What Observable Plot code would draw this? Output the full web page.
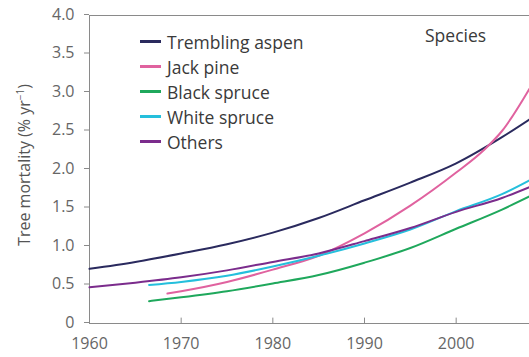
<!DOCTYPE html>
<html><head><meta charset="utf-8">
<script src="https://cdn.jsdelivr.net/npm/d3@7"></script>
<script src="https://cdn.jsdelivr.net/npm/@observablehq/plot@0.6"></script>
<style>
body{margin:0;background:#fff;}
#wrap{position:relative;width:529px;height:357px;overflow:hidden;font-family:"Open Sans",sans-serif;}
#legend{position:absolute;left:140px;top:29px;}
.row{position:absolute;left:0;height:25px;display:flex;align-items:center;white-space:nowrap;font-size:17.5px;color:#3a3a3a;}
.sw{display:inline-block;width:21px;height:3px;margin-right:6px;}
#title{position:absolute;left:425px;top:23px;font-size:17.5px;color:#3a3a3a;white-space:nowrap;}
#ylab{position:absolute;left:24px;top:165px;transform:translate(-50%,-50%) rotate(-90deg);font-size:16px;color:#555;white-space:nowrap;}
</style></head>
<body><div id="wrap"></div>
<script>
const species = ["Trembling aspen", "Jack pine", "Black spruce", "White spruce", "Others"];
const colors = ["#2a2a5e", "#e0629f", "#1fa85c", "#25bfdc", "#7b2c8c"];

const aspenYears = [1960, 1965, 1970, 1975, 1980, 1985, 1990, 1995, 2000, 2005, 2008];
const aspenValues = [0.71, 0.80, 0.91, 1.03, 1.18, 1.37, 1.60, 1.83, 2.08, 2.42, 2.65];

const jackYears = [1968.5, 1970, 1975, 1980, 1985, 1990, 1995, 2000, 2003, 2005, 2008];
const jackValues = [0.39, 0.42, 0.54, 0.70, 0.88, 1.17, 1.53, 1.96, 2.25, 2.50, 3.05];

const blackYears = [1966.5, 1970, 1975, 1980, 1985, 1990, 1995, 2000, 2005, 2008];
const blackValues = [0.29, 0.34, 0.42, 0.52, 0.63, 0.79, 0.98, 1.23, 1.48, 1.65];

const whiteYears = [1966.5, 1970, 1975, 1980, 1985, 1990, 1995, 2000, 2005, 2008];
const whiteValues = [0.50, 0.54, 0.62, 0.74, 0.88, 1.04, 1.22, 1.46, 1.68, 1.86];

const otherYears = [1960, 1965, 1970, 1975, 1980, 1985, 1990, 1995, 2000, 2005, 2008];
const otherValues = [0.47, 0.53, 0.60, 0.69, 0.80, 0.91, 1.07, 1.24, 1.45, 1.63, 1.77];

const xTicks = [1960, 1970, 1980, 1990, 2000];
const yTicks = [0, 0.5, 1.0, 1.5, 2.0, 2.5, 3.0, 3.5, 4.0];

const seriesYears = [aspenYears, jackYears, blackYears, whiteYears, otherYears];
const seriesValues = [aspenValues, jackValues, blackValues, whiteValues, otherValues];
const data = species.flatMap((s, i) => seriesYears[i].map((yr, j) => ({species: s, year: yr, value: seriesValues[i][j]})));

const axisColor = "#8a8a8a";
const chart = Plot.plot({
  width: 529, height: 357,
  marginLeft: 89, marginRight: 0, marginTop: 15, marginBottom: 34,
  style: {fontFamily: "'Open Sans', sans-serif", background: "#fff"},
  x: {domain: [1960, 2008]},
  y: {domain: [0, 4]},
  color: {domain: species, range: colors},
  marks: [
    Plot.ruleY([4], {stroke: axisColor, strokeWidth: 1}),
    Plot.ruleY([0], {stroke: axisColor, strokeWidth: 1}),
    Plot.ruleX([1960], {stroke: axisColor, strokeWidth: 1}),
    Plot.axisY({ticks: yTicks, tickSize: 5, tickPadding: 10, fontSize: 16, dy: -1, stroke: axisColor, color: "#666", label: null,
      tickFormat: d => d === 0 ? "0" : d.toFixed(1)}),
    Plot.axisX({ticks: xTicks, tickSize: 0, tickPadding: 14, fontSize: 16, color: "#666", label: null, tickFormat: d3.format("d")}),
    Plot.ruleX(xTicks, {y1: 0, y2: 0.07, stroke: axisColor}),
    Plot.line(data, {x: "year", y: "value", z: "species", stroke: "species", strokeWidth: 2, curve: "monotone-x"})
  ]
});
const wrap = document.getElementById("wrap");
wrap.appendChild(chart);

const legend = document.createElement("div");
legend.id = "legend";
species.forEach((s, i) => {
  const row = document.createElement("div");
  row.className = "row";
  row.style.top = (i * 25) + "px";
  const sw = document.createElement("span");
  sw.className = "sw";
  sw.style.background = colors[i];
  row.appendChild(sw);
  row.appendChild(document.createTextNode(s));
  legend.appendChild(row);
});
wrap.appendChild(legend);

const title = document.createElement("div");
title.id = "title";
title.textContent = "Species";
wrap.appendChild(title);

const ylab = document.createElement("div");
ylab.id = "ylab";
ylab.innerHTML = "Tree mortality (% yr<sup style=\"font-size:10px\">−1</sup>)";
wrap.appendChild(ylab);
</script>
</body></html>
